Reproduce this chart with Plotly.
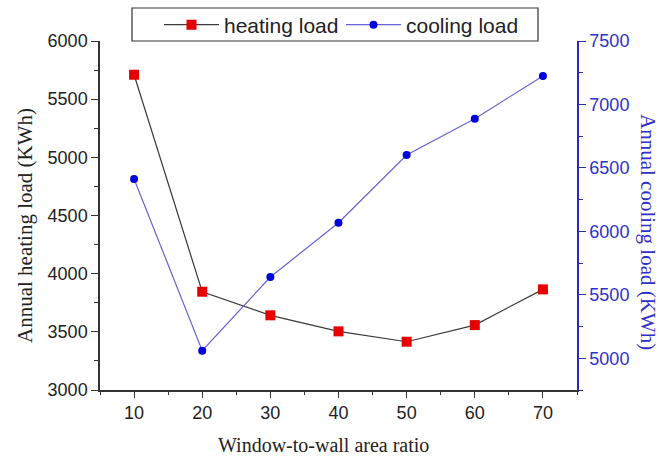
import plotly.graph_objects as go

# Window-to-wall area ratio (%)
wwr = [10, 20, 30, 40, 50, 60, 70]
# Annual heating load (KWh), left axis
heating = [5710, 3845, 3642, 3504, 3415, 3558, 3865]
# Annual cooling load (KWh), right axis
cooling = [6413, 5060, 5640, 6068, 6602, 6888, 7224]

x_range = [5, 75]
heat_range = [3000, 6000]
cool_range = [4750, 7500]

BLUE_AXIS = "#2b2bb0"
BLUE_TEXT = "#3030c8"
TICK_FONT = dict(family="Liberation Sans, Arial, sans-serif", size=18, color="#222222")
SERIF = "Liberation Serif, Times New Roman, serif"

fig = go.Figure()

fig.add_trace(go.Scatter(
    x=wwr, y=heating, name="heating load", mode="lines+markers",
    line=dict(color="#3a3a3a", width=1.2),
    marker=dict(symbol="square", size=10, color="#e60000"),
    xaxis="x", yaxis="y",
))
fig.add_trace(go.Scatter(
    x=wwr, y=cooling, name="cooling load", mode="lines+markers",
    line=dict(color="#6464d2", width=1.2),
    marker=dict(symbol="circle", size=8, color="#0000dd"),
    xaxis="x", yaxis="y2",
))

fig.update_layout(
    width=660, height=459,
    margin=dict(l=100, r=83, t=41, b=69, autoexpand=False),
    paper_bgcolor="white", plot_bgcolor="white",
    xaxis=dict(
        range=x_range, dtick=10, tick0=0, showgrid=False, zeroline=False,
        showline=True, linecolor="#333333", linewidth=1.5,
        ticks="outside", ticklen=6, tickwidth=1.2, tickcolor="#333333",
        minor=dict(dtick=5, ticks="outside", ticklen=3, tickcolor="#333333", showgrid=False),
        tickfont=TICK_FONT,
    ),
    xaxis2=dict(
        range=x_range, dtick=10, tick0=0, overlaying="x", side="top", anchor="y",
        showgrid=False, zeroline=False, showticklabels=False,
        showline=True, linecolor="#333333", linewidth=1.5,
        ticks="inside", ticklen=6, tickwidth=1.2, tickcolor="#333333",
        minor=dict(dtick=5, ticks="inside", ticklen=3, tickcolor="#333333", showgrid=False),
    ),
    yaxis=dict(
        range=heat_range, dtick=500, tick0=0, showgrid=False, zeroline=False,
        showline=True, linecolor="#333333", linewidth=1.5,
        ticks="outside", ticklen=7, tickwidth=1.2, tickcolor="#333333",
        minor=dict(dtick=250, ticks="outside", ticklen=4, tickcolor="#333333", showgrid=False),
        tickfont=TICK_FONT,
    ),
    yaxis2=dict(
        range=cool_range, dtick=500, tick0=0, overlaying="y", side="right", anchor="x",
        showgrid=False, zeroline=False,
        showline=True, linecolor=BLUE_AXIS, linewidth=1.5,
        ticks="outside", ticklen=7, tickwidth=1.2, tickcolor=BLUE_AXIS,
        minor=dict(dtick=250, ticks="outside", ticklen=4, tickcolor=BLUE_AXIS, showgrid=False),
        tickfont=dict(family="Liberation Sans, Arial, sans-serif", size=18, color=BLUE_TEXT),
    ),
    legend=dict(
        orientation="h", x=(159 - 100) / 477, xanchor="left",
        y=(390 - 25) / 349, yanchor="middle",
        font=dict(family="Liberation Sans, Arial, sans-serif", size=21, color="#222222"),
        bgcolor="rgba(0,0,0,0)", borderwidth=0,
        itemwidth=55,
        entrywidth=112, entrywidthmode="pixels",
    ),
    showlegend=True,
)

# legend frame
fig.add_shape(
    type="rect", xref="paper", yref="paper",
    x0=(132 - 100) / 477, x1=(538 - 100) / 477,
    y0=(390 - 41) / 349, y1=(390 - 8) / 349,
    line=dict(color="#333333", width=1.2), fillcolor="rgba(0,0,0,0)", layer="below",
)

# axis titles
fig.add_annotation(
    text="Annual heating load (KWh)", xref="paper", yref="paper",
    x=(25 - 100) / 477, y=(390 - 226) / 349, showarrow=False, textangle=-90,
    font=dict(family=SERIF, size=21, color="#222222"), xanchor="center", yanchor="middle",
)
fig.add_annotation(
    text="Annual cooling load (KWh)", xref="paper", yref="paper",
    x=(648 - 100) / 477, y=(390 - 232) / 349, showarrow=False, textangle=90,
    font=dict(family=SERIF, size=21, color=BLUE_TEXT), xanchor="center", yanchor="middle",
)
fig.add_annotation(
    text="Window-to-wall area ratio", xref="paper", yref="paper",
    x=(323 - 100) / 477, y=(390 - 445) / 349, showarrow=False,
    font=dict(family=SERIF, size=20, color="#222222"), xanchor="center", yanchor="middle",
)

fig.write_html("out.html")
